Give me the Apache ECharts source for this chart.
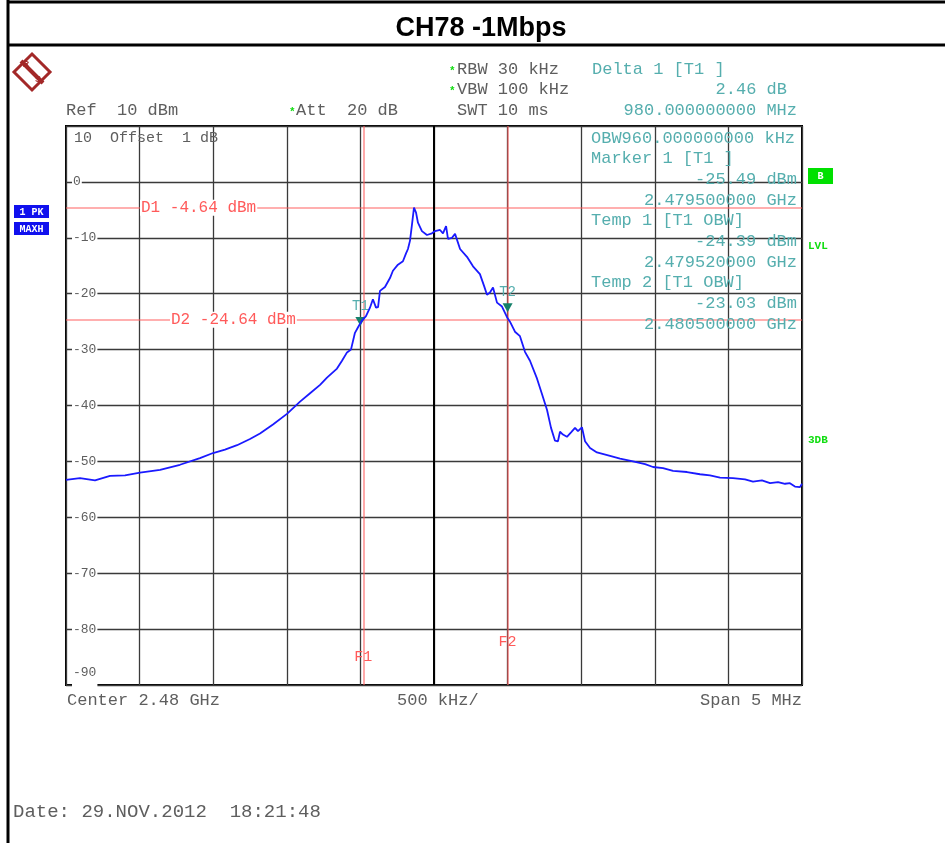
<!DOCTYPE html>
<html>
<head>
<meta charset="utf-8">
<script src="https://cdn.jsdelivr.net/npm/echarts@6/dist/echarts.min.js"></script>
<style>
html,body{margin:0;padding:0;background:#fff;}
#chart{width:945px;height:843px;}
</style>
</head>
<body>
<div id="chart"></div>
<script>
// ---- data ----
const chartTitle = 'CH78 -1Mbps';
const freqMHz = [
2477.500,2477.595,2477.697,2477.799,2477.901,2478.003,2478.139,2478.274,2478.410,2478.499,
2478.580,2478.662,2478.750,2478.818,2478.906,2479.001,2479.090,2479.158,2479.226,2479.273,
2479.341,2479.375,2479.409,2479.436,2479.463,2479.484,2479.511,2479.538,2479.565,2479.585,
2479.606,2479.620,2479.633,2479.667,2479.701,2479.721,2479.755,2479.789,2479.810,2479.823,
2479.837,2479.851,2479.864,2479.878,2479.891,2479.918,2479.952,2479.986,2480.007,2480.041,
2480.061,2480.082,2480.095,2480.122,2480.143,2480.177,2480.224,2480.265,2480.312,2480.340,
2480.360,2480.380,2480.401,2480.428,2480.462,2480.496,2480.516,2480.550,2480.584,2480.618,
2480.652,2480.700,2480.734,2480.768,2480.795,2480.822,2480.842,2480.856,2480.876,2480.903,
2480.931,2480.958,2480.978,2481.005,2481.026,2481.060,2481.107,2481.196,2481.264,2481.352,
2481.434,2481.488,2481.556,2481.624,2481.719,2481.807,2481.875,2481.943,2482.031,2482.113,
2482.167,2482.228,2482.283,2482.337,2482.385,2482.418,2482.452,2482.486,2482.500
];
const levelDbm = [
-53.3,-53.0,-53.4,-52.6,-52.5,-52.0,-51.5,-50.6,-49.4,-48.5,
-47.9,-47.1,-46.0,-45.0,-43.4,-41.5,-39.3,-37.8,-36.3,-35.0,
-33.4,-32.0,-30.5,-30.0,-27.0,-26.0,-24.8,-24.0,-22.5,-21.0,
-22.5,-22.4,-19.5,-18.8,-17.2,-15.9,-14.8,-14.2,-12.8,-12.0,
-10.5,-7.5,-4.6,-5.5,-7.3,-8.8,-9.5,-9.2,-8.8,-8.6,
-9.2,-7.9,-10.2,-10.0,-9.3,-12.0,-13.4,-15.1,-16.5,-18.6,
-20.2,-19.8,-18.9,-21.6,-22.3,-24.2,-25.0,-26.8,-27.6,-30.4,
-32.0,-35.2,-38.0,-40.8,-44.0,-46.3,-46.4,-44.7,-45.2,-45.6,
-44.8,-44.0,-44.6,-43.9,-46.4,-47.6,-48.4,-49.0,-49.5,-50.0,
-50.5,-51.0,-51.2,-51.7,-51.9,-52.3,-52.5,-52.9,-53.0,-53.2,
-53.6,-53.4,-53.9,-53.7,-54.0,-53.9,-54.5,-54.6,-54.0
];
const xMin = 2477.5, xMax = 2482.5, xStep = 0.5, centerMHz = 2480.0;
const yMin = -90, yMax = 10, yStep = 10;
const yTickValues = [0,-10,-20,-30,-40,-50,-60,-70,-80,-90];
const yTickLabels = ['0','-10','-20','-30','-40','-50','-60','-70','-80','-90'];
const displayLineNames = ['D1','D2'];
const displayLineLevels = [-4.64,-24.64];
const freqLineNames = ['F1','F2'];
const freqLineValues = [2479.52,2480.50];
const markerNames = ['T1','T2'];
const markerFreq = [2479.50,2480.50];
const markerLevel = [-25.49,-23.03];
const headerLeft = ['Ref  10 dBm','Att  20 dB'];
const headerMid = ['RBW 30 kHz','VBW 100 kHz','SWT 10 ms'];
const deltaInfo = ['Delta 1 [T1 ]','2.46 dB','980.000000000 MHz'];
const markerInfoLeft = ['OBW960.000000000 kHz','Marker 1 [T1 ]','','','Temp 1 [T1 OBW]','','','Temp 2 [T1 OBW]','',''];
const markerInfoRight = ['','','-25.49 dBm','2.479500000 GHz','','-24.39 dBm','2.479520000 GHz','','-23.03 dBm','2.480500000 GHz'];
const footer = ['Center 2.48 GHz','500 kHz/','Span 5 MHz'];
const dateText = 'Date: 29.NOV.2012  18:21:48';

const MONO = '"Liberation Mono","DejaVu Sans Mono",monospace';
const GRAY = '#5e5e5e';
const TEAL = '#55aeae';
const RED = '#ff5a5a';
const GREEN = '#11dd11';

const G = {left:66, top:126, width:736, height:559};

const chart = echarts.init(document.getElementById('chart'), null, {renderer:'canvas'});

const traceData = freqMHz.map((f,i)=>[f, levelDbm[i]]);

function txt(x,y,s,opt){
  return Object.assign({type:'text', x:x, y:y, z:50, style:Object.assign({text:s, font:'17px '+MONO, fill:GRAY, textVerticalAlign:'middle'}, opt||{})});
}

const option = {
  animation:false,
  backgroundColor:'#fff',
  grid:{left:G.left, top:G.top, width:G.width, height:G.height, show:true, borderColor:'#000', borderWidth:2, backgroundColor:'transparent'},
  xAxis:{type:'value', min:xMin, max:xMax, interval:xStep,
    axisLine:{show:false}, axisTick:{show:false}, axisLabel:{show:false},
    splitLine:{show:true, lineStyle:{color:'#3a3a3a', width:1.3}}},
  yAxis:{type:'value', min:yMin, max:yMax, interval:yStep,
    axisLine:{show:false}, axisTick:{show:false},
    splitLine:{show:true, lineStyle:{color:'#3a3a3a', width:1.3}},
    axisLabel:{inside:true, margin:6, showMaxLabel:false, showMinLabel:true,
      color:GRAY, fontFamily:MONO, fontSize:13, backgroundColor:'#fff', padding:[0,1],
      formatter:function(v){
        const i = yTickValues.indexOf(Math.round(v));
        if(i<0) return '';
        if(Math.round(v)===yMin) return '{lo|'+yTickLabels[i]+'}';
        return yTickLabels[i];
      },
      rich:{lo:{color:GRAY, fontFamily:MONO, fontSize:13, padding:[0,0,24,0], backgroundColor:'transparent'}}
    }},
  series:[
    {type:'line', name:'lines', data:[], z:1, silent:true,
      markLine:{silent:true, symbol:'none', animation:false,
        label:{show:false},
        data:[
          ...displayLineLevels.map(v=>({yAxis:v, lineStyle:{color:'rgba(255,90,90,0.65)', width:1.6, type:'solid'}})),
          ...freqLineValues.map(v=>({xAxis:v, lineStyle:{color:'rgba(255,90,90,0.65)', width:1.6, type:'solid'}})),
          {xAxis:centerMHz, lineStyle:{color:'#000', width:2, type:'solid'}}
        ]}},
    {type:'line', name:'trace', data:traceData, z:5, showSymbol:false, symbol:'none',
      lineStyle:{color:'#1a1aff', width:1.8}, itemStyle:{color:'#1a1aff'},
      markPoint:{symbol:'triangle', symbolRotate:180, symbolSize:[10,9], symbolOffset:[0,-3],
        itemStyle:{color:'#15806a'},
        label:{show:true, position:'top', distance:4, color:TEAL, fontFamily:MONO, fontSize:14, formatter:p=>p.name},
        data:markerNames.map((n,i)=>({name:n, coord:[markerFreq[i], markerLevel[i]]}))}}
  ]
};
chart.setOption(option);

// ---- annotations ----
const g = [];
// frame
g.push({type:'line', z:40, shape:{x1:8,y1:2,x2:945,y2:2}, style:{stroke:'#000', lineWidth:3}});
g.push({type:'line', z:40, shape:{x1:8,y1:45,x2:945,y2:45}, style:{stroke:'#000', lineWidth:3}});
g.push({type:'line', z:40, shape:{x1:8,y1:0,x2:8,y2:843}, style:{stroke:'#000', lineWidth:3}});
g.push({type:'text', z:50, x:481, y:29, style:{text:chartTitle, font:'bold 27px "Liberation Sans",Arial,sans-serif', fill:'#000', textAlign:'center', textVerticalAlign:'middle'}});
// logo
g.push({type:'polygon', z:50, shape:{points:[[32,54],[50,72],[32,90],[14,72]]}, style:{fill:'#fff', stroke:'#a32828', lineWidth:3}});
g.push({type:'line', z:51, shape:{x1:21,y1:61,x2:43,y2:83}, style:{stroke:'#a32828', lineWidth:4}});
g.push({type:'text', z:52, x:26, y:65, style:{text:'R', font:'bold 9px "Liberation Sans",sans-serif', fill:'#a32828', textAlign:'center', textVerticalAlign:'middle'}});
g.push({type:'text', z:52, x:38, y:80, style:{text:'S', font:'bold 9px "Liberation Sans",sans-serif', fill:'#a32828', textAlign:'center', textVerticalAlign:'middle'}});
// header
g.push(txt(66,110,headerLeft[0]));
g.push(txt(289,112,'*',{fill:GREEN, font:'bold 11px '+MONO}));
g.push(txt(296,110,headerLeft[1]));
g.push(txt(449,71,'*',{fill:GREEN, font:'bold 11px '+MONO}));
g.push(txt(449,91,'*',{fill:GREEN, font:'bold 11px '+MONO}));
g.push(txt(457,69,headerMid[0]));
g.push(txt(457,89,headerMid[1]));
g.push(txt(457,110,headerMid[2]));
g.push(txt(592,69,deltaInfo[0],{fill:TEAL}));
g.push(txt(787,89,deltaInfo[1],{fill:TEAL, textAlign:'right'}));
g.push(txt(797,110,deltaInfo[2],{fill:TEAL, textAlign:'right'}));
g.push(txt(74,138,'10  Offset  1 dB',{font:'15px '+MONO}));
// marker info inside plot
for(let i=0;i<markerInfoLeft.length;i++){
  const y = 138 + i*20.7;
  if(markerInfoLeft[i]) g.push(txt(591,y,markerInfoLeft[i],{fill:TEAL}));
  if(markerInfoRight[i]) g.push(txt(797,y,markerInfoRight[i],{fill:TEAL, textAlign:'right'}));
}
// left blue trace boxes
g.push({type:'rect', z:50, shape:{x:14,y:205,width:35,height:13}, style:{fill:'#1010ee'}});
g.push({type:'rect', z:50, shape:{x:14,y:222,width:35,height:13}, style:{fill:'#1010ee'}});
g.push(txt(31.5,212,'1 PK',{fill:'#fff', font:'bold 10px '+MONO, textAlign:'center'}));
g.push(txt(31.5,229,'MAXH',{fill:'#fff', font:'bold 10px '+MONO, textAlign:'center'}));
// right green labels
g.push({type:'rect', z:50, shape:{x:808,y:168,width:25,height:16}, style:{fill:'#00e000'}});
g.push(txt(820.5,176,'B',{fill:'#fff', font:'bold 10px '+MONO, textAlign:'center'}));
g.push(txt(808,246,'LVL',{fill:GREEN, font:'bold 11px '+MONO}));
g.push(txt(808,440,'3DB',{fill:GREEN, font:'bold 11px '+MONO}));
// display line labels
const dLabelX = [140,170];
displayLineNames.forEach((n,i)=>{
  const p = chart.convertToPixel({gridIndex:0},[xMin, displayLineLevels[i]]);
  const s = n+' '+displayLineLevels[i].toFixed(2)+' dBm';
  g.push(txt(dLabelX[i], p[1], s, {fill:RED, font:'16px '+MONO, backgroundColor:'#fff', padding:[0,1]}));
});
// frequency line labels
const fLabelDy = [28,43];
freqLineNames.forEach((n,i)=>{
  const p = chart.convertToPixel({gridIndex:0},[freqLineValues[i], yMin]);
  g.push(txt(p[0], p[1]-fLabelDy[i], n, {fill:RED, font:'15px '+MONO, textAlign:'center'}));
});
// footer
g.push(txt(67,700,footer[0]));
g.push(txt(397,700,footer[1]));
g.push(txt(802,700,footer[2],{textAlign:'right'}));
g.push(txt(13,812,dateText,{font:'19px '+MONO}));

chart.setOption({graphic:g});
</script>
</body>
</html>
